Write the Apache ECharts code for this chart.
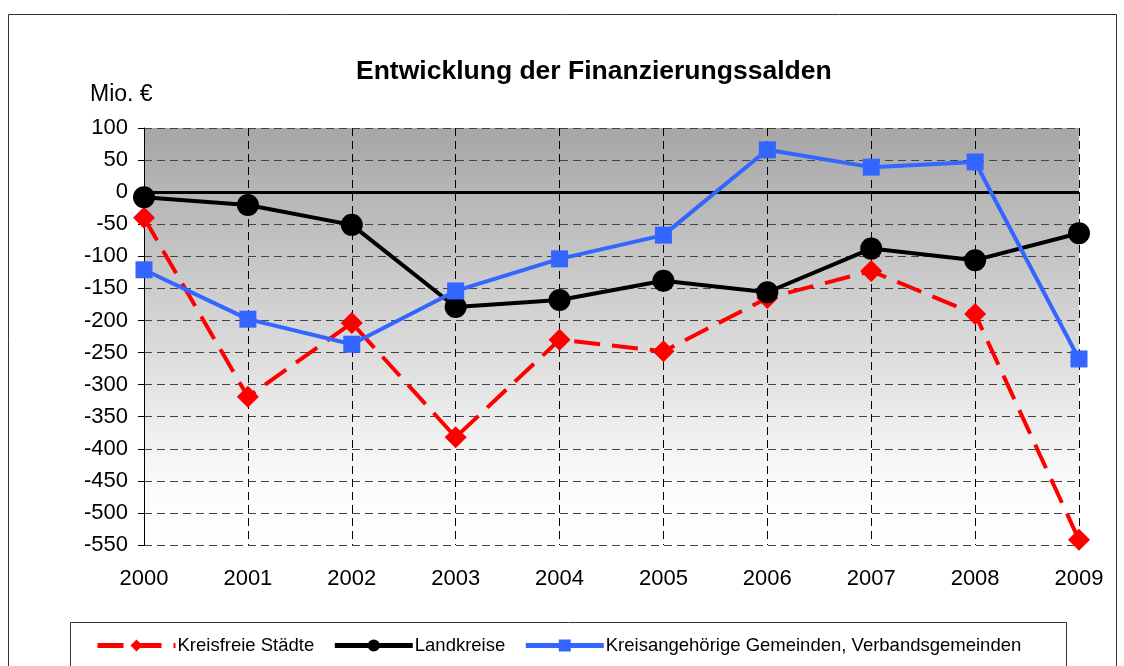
<!DOCTYPE html>
<html>
<head>
<meta charset="utf-8">
<script src="https://cdn.jsdelivr.net/npm/echarts@6/dist/echarts.min.js"></script>
<style>
  html, body { margin: 0; padding: 0; background: #fff; }
  #chart { width: 1124px; height: 666px; }
</style>
</head>
<body>
<div id="chart"></div>
<script>
// Jahre und Finanzierungssalden (Mio. €)
const years = ["2000", "2001", "2002", "2003", "2004", "2005", "2006", "2007", "2008", "2009"];
const kreisfreieStaedte = [-40, -319, -204, -382, -230, -248, -165, -123, -190, -542];
const landkreise = [-8, -20, -51, -179, -168, -138, -156, -88, -106, -64];
const gemeinden = [-121, -198, -237, -154, -104, -67, 66, 39, 47, -260];

const FONT = "Liberation Sans, Arial, sans-serif";

const chart = echarts.init(document.getElementById("chart"));

const option = {
  animation: false,
  backgroundColor: "#fff",
  textStyle: { fontFamily: FONT },
  title: {
    text: "Entwicklung der Finanzierungssalden",
    left: 351,
    top: 53,
    textStyle: { fontSize: 26.5, fontWeight: "bold", color: "#000", fontFamily: FONT },
  },
  graphic: [
    // Rahmen um das Diagramm
    { type: "rect", shape: { x: 8.5, y: 14.5, width: 1108, height: 700 },
      style: { fill: "none", stroke: "#333", lineWidth: 1 }, silent: true },
    // Rahmen der Legende
    { type: "rect", shape: { x: 70.5, y: 622.5, width: 996, height: 80 },
      style: { fill: "none", stroke: "#333", lineWidth: 1 }, silent: true },
    { type: "text", left: 90, top: 83,
      style: { text: "Mio. €", fontSize: 23, fill: "#000", fontFamily: FONT } },
  ],
  legend: {
    left: 90,
    top: 631,
    itemWidth: 78,
    itemHeight: 15,
    itemGap: 18,
    lineStyle: { width: 5 },
    textStyle: { fontSize: 18.5, color: "#000", fontFamily: FONT, padding: [0, 0, 0, -3] },
    data: ["Kreisfreie Städte", "Landkreise", "Kreisangehörige Gemeinden, Verbandsgemeinden"],
  },
  grid: {
    left: 144,
    right: 45,
    top: 128,
    bottom: 121,
    show: true,
    borderWidth: 0,
    backgroundColor: {
      type: "linear", x: 0, y: 0, x2: 0, y2: 1,
      colorStops: [
        { offset: 0, color: "#a6a6a6" },
        { offset: 0.85, color: "#fbfbfb" },
        { offset: 1, color: "#ffffff" },
      ],
    },
  },
  xAxis: {
    type: "category",
    data: years,
    boundaryGap: false,
    axisLine: { lineStyle: { color: "#222", width: 1 } },
    axisTick: { show: true, length: 7, lineStyle: { color: "#000" } },
    axisLabel: { fontSize: 22, color: "#000", margin: 23, fontFamily: FONT },
    splitLine: { show: true, lineStyle: { color: "#000", type: [8, 5], width: 1 } },
  },
  yAxis: {
    type: "value",
    min: -550,
    max: 100,
    interval: 50,
    axisLine: { show: true, lineStyle: { color: "#000", width: 1 } },
    axisTick: { show: true, length: 6, lineStyle: { color: "#000" } },
    axisLabel: { fontSize: 22, color: "#000", margin: 16, fontFamily: FONT },
    splitLine: { show: true, lineStyle: { color: "#444", type: [8, 5], width: 1 } },
  },
  series: [
    {
      name: "Kreisfreie Städte",
      type: "line",
      data: kreisfreieStaedte,
      symbol: "diamond",
      symbolSize: 22,
      itemStyle: { color: "#ff0000" },
      lineStyle: { color: "#ff0000", width: 4, type: [26, 12] },
      z: 3,
    },
    {
      name: "Landkreise",
      type: "line",
      data: landkreise,
      symbol: "circle",
      symbolSize: 22,
      itemStyle: { color: "#000" },
      lineStyle: { color: "#000", width: 4 },
      z: 4,
      markLine: {
        silent: true,
        symbol: "none",
        label: { show: false },
        lineStyle: { color: "#000", type: "solid", width: 3 },
        data: [{ yAxis: 0 }],
      },
    },
    {
      name: "Kreisangehörige Gemeinden, Verbandsgemeinden",
      type: "line",
      data: gemeinden,
      symbol: "rect",
      symbolSize: 17,
      itemStyle: { color: "#3366ff" },
      lineStyle: { color: "#3366ff", width: 4 },
      z: 5,
    },
  ],
};

chart.setOption(option);
</script>
</body>
</html>
